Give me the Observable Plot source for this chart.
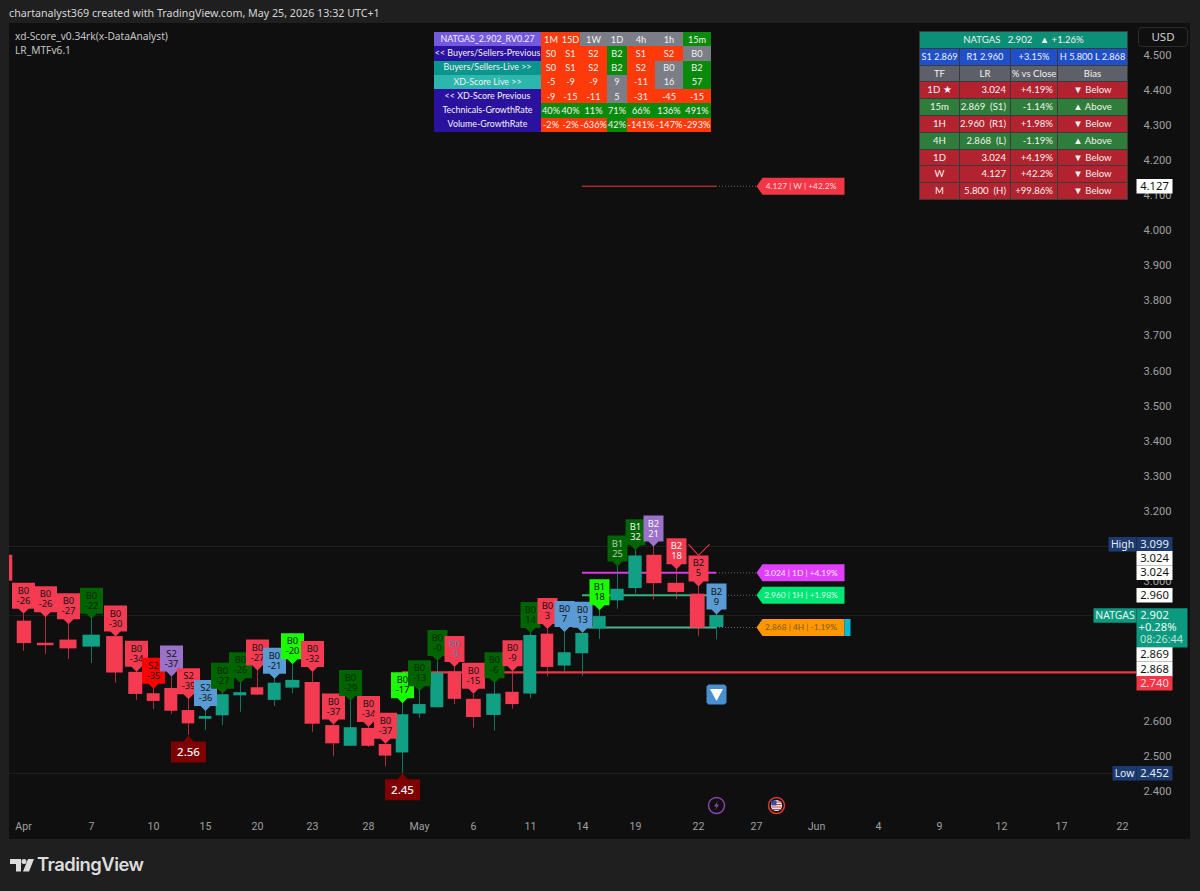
<!DOCTYPE html>
<html>
<head>
<meta charset="utf-8">
<script src="https://cdn.jsdelivr.net/npm/d3@7"></script>
<script src="https://cdn.jsdelivr.net/npm/@observablehq/plot@0.6"></script>
<style>
html,body{margin:0;padding:0;width:1200px;height:891px;overflow:hidden;background:#1f1f1f;font-family:"Noto Sans",sans-serif}
#panel{position:absolute;left:9px;top:23px;width:1181px;height:816px;background:#0f0f0f}
#chart{position:absolute;left:0;top:0}
#chart svg{background:transparent;display:block}
.h{position:absolute;white-space:nowrap}
#by{left:9px;top:6px;font-size:10.7px;color:#d6d6d6}
.leg{left:15px;font-size:10.2px;color:#c4c4c4}
#usd{left:1138px;top:27px;width:50px;height:20px;border:1px solid #2c2c2c;border-radius:4px;box-sizing:border-box;color:#d0d0d0;font:11.5px/18px "Noto Sans";text-align:center}
table{position:absolute;border-collapse:collapse;table-layout:fixed;color:#f2f2f2;font-family:Lato,sans-serif}
td{padding:0;text-align:center;white-space:nowrap;overflow:hidden;line-height:1}
#t1{left:434px;top:32px;width:277px}
#t1 td{height:14.3px;font-size:9.2px}
#t1 td:first-child{font-size:8.9px}
#t2{left:919px;top:31px;width:208px}
#t2 td{height:15.8px;border:1px solid #3a3a3c;font-size:9.6px}
#t2 td.r{text-align:right;padding-right:4px}
#t2 tr:nth-child(2) td{font-size:9.2px}
#brand{left:37px;top:853px;font-size:18.4px;font-weight:600;color:#dcdcdc;letter-spacing:-.5px;font-family:Inter}
#logo{position:absolute;left:10px;top:859px}
</style>
</head>
<body>
<div id="panel"></div>
<div id="chart"></div>
<div class="h" id="by">chartanalyst369 created with TradingView.com, May 25, 2026 13:32 UTC+1</div>
<div class="h leg" style="top:29px">xd-Score_v0.34rk(x-DataAnalyst)</div>
<div class="h leg" style="top:43px">LR_MTFv6.1</div>
<div class="h" id="usd">USD</div>
<svg id="logo" width="24" height="14" viewBox="0 0 24 14"><path fill="#dcdcdc" d="M0 0h11v12.500H6V5H0zM18 0h6l-5 12.500h-6z"/><circle cx="14" cy="2.500" r="2.500" fill="#dcdcdc"/></svg>
<div class="h" id="brand">TradingView</div>
<script>
// Trading sessions: index -1 is the partly visible candle at the left edge
const opens  = [3.074,2.886,2.823,2.832,2.812,2.842,2.740,2.679,2.694,2.631,2.606,2.616,2.673,2.696,2.660,2.695,2.711,2.588,2.529,2.580,2.534,2.510,2.621,2.639,2.741,2.663,2.617,2.683,2.678,2.849,2.758,2.793,2.864,2.944,2.979,3.074,2.994,2.963,2.868];
const highs  = [3.080,2.907,2.897,2.877,2.893,2.842,2.742,2.693,2.728,2.663,2.630,2.679,2.709,2.745,2.722,2.763,2.741,2.591,2.658,2.584,2.536,2.652,2.686,2.772,2.755,2.679,2.709,2.743,2.852,2.864,2.855,2.853,2.917,3.042,3.088,3.099,3.034,2.985,2.905];
const lows   = [2.990,2.800,2.791,2.777,2.765,2.709,2.660,2.634,2.620,2.560,2.574,2.588,2.626,2.674,2.643,2.679,2.569,2.499,2.529,2.526,2.470,2.452,2.608,2.639,2.648,2.581,2.572,2.635,2.665,2.728,2.741,2.729,2.834,2.920,2.964,2.947,2.948,2.843,2.833];
const closes = [3.000,2.822,2.816,2.807,2.846,2.738,2.677,2.657,2.629,2.593,2.614,2.676,2.682,2.675,2.709,2.717,2.592,2.536,2.582,2.529,2.501,2.619,2.648,2.738,2.663,2.611,2.678,2.648,2.845,2.754,2.796,2.851,2.899,2.977,3.072,2.993,2.968,2.866,2.902];

// Flags for sessions 0..37
const flagCodes  = ["B0","B0","B0","B0","B0","B0","S2","S2","S2","S2","B0","B0","B0","B0","B0","B0","B0","B0","B0","B0","B0","B0","B0","B0","B0","B0","B0","B0","B0","B0","B0","B1","B1","B1","B2","B2","B2","B2"];
const flagScores = ["-26","-26","-27","-22","-30","-34","-35","-37","-39","-36","-27","-26","-27","-21","-20","-32","-37","-29","-34","-37","-17","-13","-0","-9","-15","-6","-9","14","3","7","13","18","25","32","21","18","5","9"];
const flagPalette = {r:"#f43b52",R:"#ff0000",g:"#006400",l:"#1aff00",p:"#9a72c9",b:"#5b9bd5"};
const flagColors = ["r","r","r","g","r","r","R","p","r","b","g","g","r","b","l","r","r","g","r","r","l","g","g","r","r","g","r","g","r","b","b","l","g","g","p","r","r","b"];
const flagInk    = {32:"#b9c9b9",33:"#f4f4f4",34:"#f4f4f4",35:"#f4f4f4",23:"#5f7fa8"};

// X axis
const tickSessions = [0,3,6,9,12,15,18,21,24,27,30,33,36,39,42,45,48,51,54,57];
const tickLabels   = ["Apr","7","10","15","20","23","28","May","6","11","14","19","22","27","Jun","4","9","12","17","22"];
// Price axis
const priceTicks = d3.range(24,46).map(d => d/10);

// Level lines
const levelPrices = [4.127,3.024,2.960,2.868];
const levelColors = ["#f23645","#d63ee0","#33b27c","#4cb391"];
const levelTags   = ["4.127 | W | +42.2%","3.024 | 1D | +4.19%","2.960 | 1H | +1.98%","2.868 | 4H | -1.19%"];
const levelTagBg  = ["#f23645","#e040fb","#00e676","#ff9800"];
const levelTagInk = ["#f7d9dc","#fbe6fe","#dcfbe9","#7a5a1c"];
const supportPrice = 2.740;
const lowMarks = [{session:8,price:2.56,text:"2.56"},{session:20,price:2.452,text:"2.45"}];
const lastSession = 37, arrowPrice = 2.677, signalPrice = 3.074;

// Tags on the price scale (rows = stacked tag rows away from the true price)
const tagPrices = [4.127,3.099,3.024,3.024,2.960,2.869,2.868,2.740];
const tagRows   = [0,0.15,1,0,0,-1.87,-2.87,-0.75];
const tagBg     = ["#ffffff","#1c3a6e","#ffffff","#ffffff","#ffffff","#ffffff","#ffffff","#f23645"];
const tagInk    = ["#111111","#e8edf5","#111111","#111111","#111111","#111111","#111111","#f8dde0"];

// Tables
const t1Head  = ["NATGAS_2.902_RV0.27","<< Buyers/Sellers-Previous","Buyers/Sellers-Live >>","XD-Score Live >>","<< XD-Score Previous","Technicals-GrowthRate","Volume-GrowthRate"];
const t1HeadBg= ["#7459e0","#2a129f","#0b958f","#2cb6ac","#2a129f","#2a129f","#2a129f"];
const t1Rows  = [["1M","15D","1W","1D","4h","1h","15m"],["S0","S1","S2","B2","S1","S2","B0"],["S0","S1","S2","B2","S2","B0","B2"],["-5","-9","-9","9","-11","16","57"],["-9","-15","-11","5","-31","-45","-15"],["40%","40%","11%","71%","66%","136%","491%"],["-2%","-2%","-636%","42%","-141%","-147%","-293%"]];
const t1Tone  = ["rrnnnng","rrrgrrn","rrrgrng","rrrnrng","rrrnrrr","ggggggg","rrrgrrr"];
const t1Widths= [107,20,19,27,20,28,28,28];
const t2Top   = "NATGAS   2.902   ▲ +1.26%";
const t2Blue  = ["S1 2.869","R1 2.960","+3.15%","H 5.800 L 2.868"];
const t2Head  = ["TF","LR","% vs Close","Bias"];
const t2Rows  = [["1D ★","3.024","+4.19%","▼ Below"],["15m","2.869  (S1)","-1.14%","▲ Above"],["1H","2.960  (R1)","+1.98%","▼ Below"],["4H","2.868  (L)","-1.19%","▲ Above"],["1D","3.024","+4.19%","▼ Below"],["W","4.127","+42.2%","▼ Below"],["M","5.800  (H)","+99.86%","▼ Below"]];
const t2Widths= [40,51,47,70];

// ---- drawing ----
const up = "#12a085", down = "#f43b52";
const candles = opens.map((o,i) => ({s:i-1,o,h:highs[i],l:lows[i],c:closes[i]}));
const flags = flagCodes.map((code,i) => ({s:i,price:highs[i+1],code,score:flagScores[i],fill:flagPalette[flagColors[i]],
  ink:flagInk[i] ?? (flagColors[i]==="g" ? "#072b07" : "#141414")}));

const poly = pts => ({draw(c){pts.forEach((p,i)=> i?c.lineTo(p[0],p[1]):c.moveTo(p[0],p[1]));c.closePath();}});
const flagShape = w => poly([[0,0],[-5,-5],[-w/2,-5],[-w/2,-31],[w/2,-31],[w/2,-5],[5,-5]]);
const wide = flagShape(23), narrow = flagShape(20);
const lowShape = poly([[0,0],[5,6],[17.5,6],[17.5,27],[-17.5,27],[-17.5,6],[-5,6]]);
const tagShape = poly([[0,-7.3],[36,-7.3],[36,7.3],[0,7.3]]);
const lvlShape = poly([[0,0],[6,-8.5],[88,-8.5],[88,8.5],[6,8.5]]);
const cyanShape = poly([[88,-8.5],[94,-8.5],[94,8.5],[88,8.5]]);
const square = poly([[-8,-10],[8,-10],[10,-8],[10,8],[8,10],[-8,10],[-10,8],[-10,-8]]);
const tri = poly([[-6.5,-5.5],[6.5,-5.5],[0,6.5]]);
const vee = {draw(c){c.moveTo(-10,-11);c.lineTo(0,0);c.lineTo(11,-11);}};
const bolt = poly([[1.5,-5],[-2.5,1],[0,1],[-1.5,5],[2.5,-1],[0,-1]]);
const usStripes = {draw(c){[-4,-1.5,1,3.5].forEach(y=>{c.moveTo(-5,y);c.lineTo(5,y);c.lineTo(5,y+1);c.lineTo(-5,y+1);c.closePath();});}};
const usCanton = poly([[-5,-5],[0,-5],[0,0],[-5,0]]);
const nameBox = w => poly([[-w,-7.3],[0,-7.3],[0,7.3],[-w,7.3]]);
const bigBox = poly([[0,-7.3],[51,-7.3],[51,32],[0,32]]);

const rowPrice = 14.6/350.5;
const tags = tagPrices.map((p,i)=>({y:p+tagRows[i]*rowPrice,t:p.toFixed(3),bg:tagBg[i],ink:tagInk[i]}));
const levels = levelPrices.map((p,i)=>({p,color:levelColors[i],tag:levelTags[i],bg:levelTagBg[i],ink:levelTagInk[i]}));

const font = "'Noto Sans',sans-serif";
const axisInk = "#a0a0a0";
const tagText = {frameAnchor:"right",textAnchor:"middle",fontFamily:font};
const marks = [
  Plot.ruleY([3.099,2.902,2.452],{stroke:"#1e2121"}),
  Plot.axisX(tickSessions,{tickSize:0,tickPadding:7,label:null,fill:axisInk,fontSize:10.6,tickFormat:d=>tickLabels[tickSessions.indexOf(d)]}),
  Plot.axisY(priceTicks.filter(d=>![2.7,2.8,2.9,3.1].includes(d)),{anchor:"right",tickSize:0,tickPadding:7,label:null,fill:axisInk,fontSize:11.2,tickFormat:d3.format(".3f")}),
  Plot.ruleY([supportPrice],{x1:()=>20,x2:()=>60,stroke:"#f23645",strokeWidth:2.2,clip:true}),
  Plot.ruleY(levels,{y:"p",x1:()=>37,x2:()=>39,stroke:"#666",strokeDasharray:"1,2"}),
  Plot.ruleY(levels,{y:"p",x1:()=>30,x2:()=>37,stroke:"color",strokeWidth:d=>d.p===4.127?1:2}),
  Plot.ruleX(candles,{x:"s",y1:"l",y2:"h",stroke:d=>d.c>=d.o?up:down,strokeOpacity:.7,clip:true}),
  Plot.rect(candles,{x1:d=>d.s-.37,x2:d=>d.s+.37,y1:"o",y2:"c",fill:d=>d.c>=d.o?up:down,clip:true}),
  ...flags.flatMap(f => [
    Plot.dot([f],{x:"s",y:"price",symbol:(f.score.length>=3?wide:narrow),r:3,fill:"fill"}),
    Plot.text([f],{x:"s",y:"price",text:"code",dy:-23,fill:"ink",fontSize:9.4,fontFamily:font}),
    Plot.text([f],{x:"s",y:"price",text:"score",dy:-13,fill:"ink",fontSize:9.4,fontFamily:font})
  ]),
  Plot.dot(lowMarks,{x:"session",y:"price",symbol:lowShape,fill:"#7f0000"}),
  Plot.text(lowMarks,{x:"session",y:"price",text:"text",dy:17,fill:"#f4f4f4",fontSize:11.5,fontWeight:500,fontFamily:font}),
  Plot.dot([signalPrice],{x:()=>36,y:d=>d,symbol:vee,fill:"none",stroke:"#f23645",strokeWidth:1.1}),
  Plot.dot([arrowPrice],{x:()=>lastSession,y:d=>d,symbol:square,fill:"#4a90d0"}),
  Plot.dot([arrowPrice],{x:()=>lastSession,y:d=>d,symbol:tri,fill:"#fff"}),
  // level tags
  Plot.dot(levels,{x:()=>39,y:"p",symbol:lvlShape,fill:"bg"}),
  Plot.dot(levels.filter(d=>d.p===2.868),{x:()=>39,y:"p",symbol:cyanShape,fill:"#00bcd4"}),
  Plot.text(levels,{x:()=>39,y:"p",text:"tag",dx:44.5,fill:"ink",fontSize:8.4,fontFamily:"Lato,sans-serif"}),
  // event icons
  Plot.dot([0],{x:()=>lastSession,frameAnchor:"bottom",dy:-10,r:8,fill:"none",stroke:"#8e44ad",strokeWidth:1.4}),
  Plot.dot([0],{x:()=>lastSession,frameAnchor:"bottom",dy:-10,symbol:bolt,fill:"#8e44ad"}),
  Plot.dot([0],{x:()=>40,frameAnchor:"bottom",dy:-10,r:8,fill:"#111",stroke:"#e53935",strokeWidth:1.4}),
  Plot.dot([0],{x:()=>40,frameAnchor:"bottom",dy:-10,r:5.6,fill:"#f0f0f0"}),
  Plot.dot([0],{x:()=>40,frameAnchor:"bottom",dy:-10,symbol:usStripes,fill:"#d83a3a"}),
  Plot.dot([0],{x:()=>40,frameAnchor:"bottom",dy:-10,symbol:usCanton,fill:"#2f4fa8"}),
  // price-scale tags
  Plot.dot([2.902],{y:d=>d,frameAnchor:"right",symbol:nameBox(43),fill:"#0b9a80"}),
  Plot.text([2.902],{y:d=>d,dx:-21.5,text:()=>"NATGAS",fill:"#e9f7f3",fontSize:10.4,...tagText}),
  Plot.dot([2.902],{y:d=>d,frameAnchor:"right",symbol:bigBox,fill:"#0b9a80"}),
  Plot.text([2.902],{y:d=>d,dx:18,text:()=>"2.902",fill:"#eefaf6",fontSize:11.2,...tagText}),
  Plot.text([2.902],{y:d=>d,dx:21,dy:12,text:()=>"+0.28%",fill:"#eefaf6",fontSize:11.2,...tagText}),
  Plot.text([2.902],{y:d=>d,dx:25,dy:24,text:()=>"08:26:44",fill:"#bfe3da",fontSize:10.8,...tagText}),
  ...tags.flatMap(d => [
    Plot.dot([d],{y:"y",frameAnchor:"right",symbol:tagShape,fill:"bg"}),
    Plot.text([d],{y:"y",dx:18,text:"t",fill:"ink",fontSize:11.2,...tagText})
  ]),
  Plot.dot([3.099+.15*rowPrice],{y:d=>d,frameAnchor:"right",symbol:nameBox(28),fill:"#1c3a6e"}),
  Plot.text([3.099+.15*rowPrice],{y:d=>d,dx:-14,text:()=>"High",fill:"#e8edf5",fontSize:10.4,...tagText}),
  Plot.dot([2.452],{y:d=>d,frameAnchor:"right",symbol:nameBox(24),fill:"#1c3a6e"}),
  Plot.dot([2.452],{y:d=>d,frameAnchor:"right",symbol:tagShape,fill:"#1c3a6e"}),
  Plot.text([2.452],{y:d=>d,dx:-12,text:()=>"Low",fill:"#e8edf5",fontSize:10.4,...tagText}),
  Plot.text([2.452],{y:d=>d,dx:18,text:()=>"2.452",fill:"#e8edf5",fontSize:11.2,...tagText})
];

const chart = Plot.plot({
  width:1200,height:891,
  marginLeft:9,marginRight:64,marginTop:25,marginBottom:76,
  x:{type:"linear",domain:[-1,...d3.range(0,38),39,42,45,48,51,54,57,60],
     range:[6,23,45,68,91,115,136,153,171,188,205,222,240,257,274,292,312,333,350,368,385,402,419,437,454,473,494,512,530,547,564,582,599,617,635,653,676,698,716,756,816,878,939,1001,1061,1122,1182]},
  y:{domain:[2.4,4.5],range:[791,55]},
  style:{background:"transparent",fontFamily:"Roboto,sans-serif"},
  marks
});
document.getElementById("chart").append(chart);

// ---- tables ----
const tone = {r:"#ff3a0a",g:"#0a8a0a",n:"#7b7e87"};
function makeT1(){
  const t=document.createElement("table");t.id="t1";
  const cg=document.createElement("colgroup");t1Widths.forEach(w=>{const c=document.createElement("col");c.style.width=w+"px";cg.append(c);});t.append(cg);
  t1Head.forEach((h,i)=>{const r=t.insertRow();const c=r.insertCell();c.textContent=h;c.style.background=t1HeadBg[i];
    t1Rows[i].forEach((v,j)=>{const d=r.insertCell();d.textContent=v;d.style.background=tone[t1Tone[i][j]];});});
  document.body.append(t);
}
function makeT2(){
  const t=document.createElement("table");t.id="t2";
  const cg=document.createElement("colgroup");t2Widths.forEach(w=>{const c=document.createElement("col");c.style.width=w+"px";cg.append(c);});t.append(cg);
  let r=t.insertRow(),c=r.insertCell();c.colSpan=4;c.textContent=t2Top;c.style.background="#0b8f76";c.style.whiteSpace="pre";
  r=t.insertRow();t2Blue.forEach(v=>{const d=r.insertCell();d.textContent=v;d.style.background="#1f50c8";d.style.whiteSpace="pre";});
  r=t.insertRow();t2Head.forEach(v=>{const d=r.insertCell();d.textContent=v;d.style.background="#5d6068";});
  t2Rows.forEach(row=>{const x=t.insertRow();const bg=row[3].startsWith("▲")?"#2f7d3a":"#b2232f";
    row.forEach((v,j)=>{const d=x.insertCell();d.textContent=v;d.style.background=bg;d.style.whiteSpace="pre";if(j===1||j===2)d.className="r";});});
  document.body.append(t);
}
makeT1();makeT2();
</script>
</body>
</html>
